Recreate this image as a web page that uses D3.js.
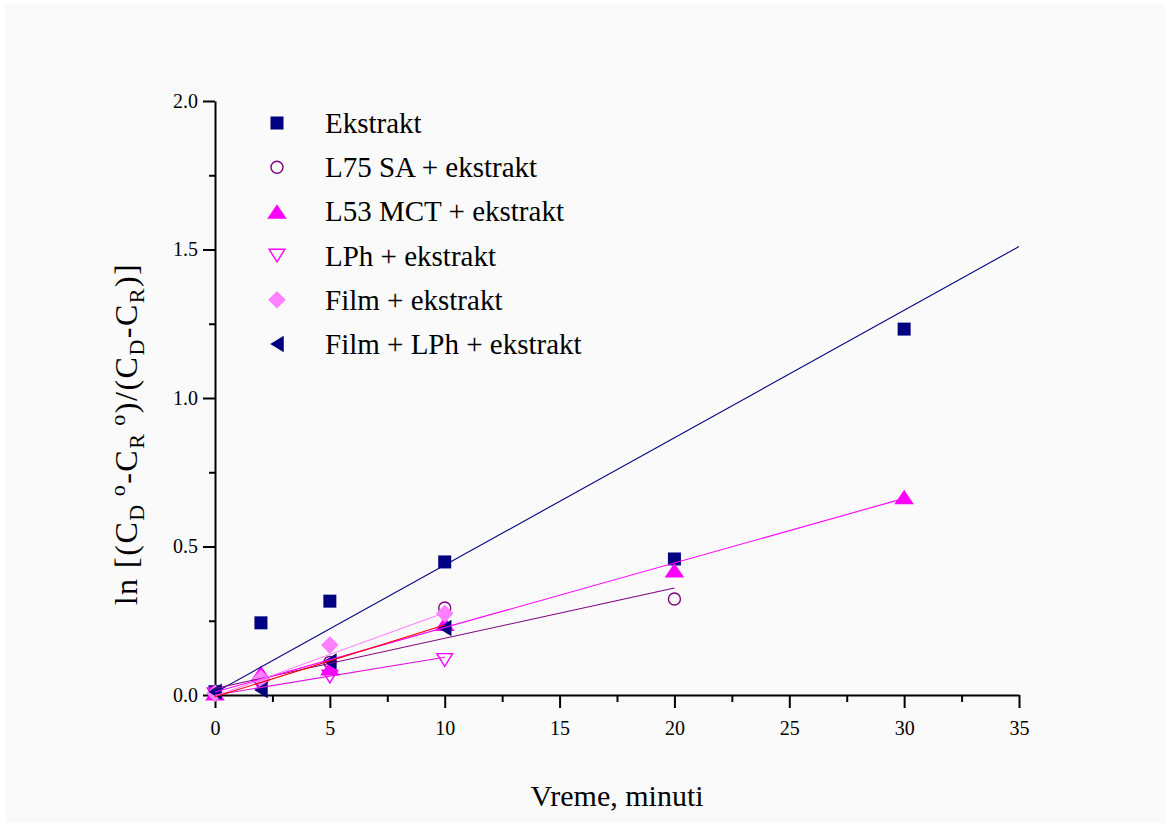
<!DOCTYPE html>
<html>
<head>
<meta charset="utf-8">
<script src="https://cdn.jsdelivr.net/npm/d3@7"></script>
<style>
  body { margin: 0; background: #ffffff; }
  svg text { font-family: "Liberation Serif", "Times New Roman", serif; fill: #000; }
</style>
</head>
<body>
<div id="chart"></div>
<script>
// kinetics plot: ln ratio vs time, one linear fit per sample

// data
let seriesNames = ["Ekstrakt", "L75 SA + ekstrakt", "L53 MCT + ekstrakt", "LPh + ekstrakt", "Film + ekstrakt", "Film + LPh + ekstrakt"];

let ekstraktT = [0, 2, 5, 10, 20, 30];
let ekstraktV = [0.011, 0.243, 0.316, 0.448, 0.458, 1.232];

let l75T = [0, 2, 5, 10, 20];
let l75V = [0.01, 0.05, 0.11, 0.293, 0.323];

let l53T = [0, 2, 5, 10, 20, 30];
let l53V = [0.006, 0.074, 0.09, 0.24, 0.42, 0.667];

let lphT = [0, 2, 5, 10];
let lphV = [0.002, 0.03, 0.062, 0.118];

let filmT = [0, 2, 5, 10];
let filmV = [0.006, 0.055, 0.168, 0.274];

let filmLphT = [0, 2, 5, 10];
let filmLphV = [0.011, 0.017, 0.113, 0.226];

// fitted lines, [start, end] as [time, value]
let fitEkstrakt = [[0, 0.008], [35, 1.51]];
let fitL75 = [[0, 0.022], [20, 0.36]];
let fitL53 = [[0, 0.01], [30, 0.662]];
let fitLph = [[0, 0.0], [10, 0.127]];
let fitFilm = [[0, -0.004], [10, 0.277]];
let fitFilmLph = [[0, -0.006], [10, 0.236]];

let xTicks = [0, 5, 10, 15, 20, 25, 30, 35];
let xMinor = [2.5, 7.5, 12.5, 17.5, 22.5, 27.5, 32.5];
let yTicks = [0, 0.5, 1.0, 1.5, 2.0];
let yMinor = [0.25, 0.75, 1.25, 1.75];

let serif = '"Liberation Serif", "Times New Roman", serif';

// svg
let W = 1170, H = 827;
let svg = d3.select('#chart').append('svg')
    .attr('width', W)
    .attr('height', H);

svg.append('rect')
    .attr('x', 5).attr('y', 4)
    .attr('width', W - 10).attr('height', H - 8)
    .attr('fill', '#fafafa');

let x = d3.scaleLinear().domain([0, 35]).range([215, 1019]);
let y = d3.scaleLinear().domain([0, 2]).range([695, 101]);

// marker shapes, centred on 0,0
function shapePath(kind, s) {
    let h = s / 2;
    if (kind == 'square') return 'M' + (-h) + ',' + (-h) + 'h' + s + 'v' + s + 'h' + (-s) + 'Z';
    if (kind == 'up') return 'M0,' + (-h * 0.85) + 'L' + (h * 1.15) + ',' + (h * 0.85) + 'L' + (-h * 1.15) + ',' + (h * 0.85) + 'Z';
    if (kind == 'down') return 'M0,' + (h * 0.85) + 'L' + (h * 1.05) + ',' + (-h * 0.85) + 'L' + (-h * 1.05) + ',' + (-h * 0.85) + 'Z';
    if (kind == 'diamond') return 'M0,' + (-h * 1.1) + 'L' + (h * 1.1) + ',0L0,' + (h * 1.1) + 'L' + (-h * 1.1) + ',0Z';
    if (kind == 'left') return 'M' + (-h * 0.9) + ',0L' + (h * 0.9) + ',' + (-h * 1.1) + 'L' + (h * 0.9) + ',' + (h * 1.1) + 'Z';
    return null;
}

let series = [
    { name: seriesNames[0], t: ekstraktT, v: ekstraktV, fit: fitEkstrakt, kind: 'square', fill: '#000080', stroke: 'none', line: '#000080', size: 13 },
    { name: seriesNames[1], t: l75T, v: l75V, fit: fitL75, kind: 'circle', fill: 'none', stroke: '#800080', line: '#800080', size: 13 },
    { name: seriesNames[2], t: l53T, v: l53V, fit: fitL53, kind: 'up', fill: '#ff00ff', stroke: 'none', line: '#ff00ff', size: 17 },
    { name: seriesNames[3], t: lphT, v: lphV, fit: fitLph, kind: 'down', fill: 'none', stroke: '#ff00ff', line: '#e010e0', size: 15 },
    { name: seriesNames[4], t: filmT, v: filmV, fit: fitFilm, kind: 'diamond', fill: '#ff80ff', stroke: 'none', line: '#ff80ff', size: 16 },
    { name: seriesNames[5], t: filmLphT, v: filmLphV, fit: fitFilmLph, kind: 'left', fill: '#000080', stroke: 'none', line: '#ff0000', size: 15 }
];

function drawMarker(sel, s) {
    if (s.kind == 'circle') {
        sel.append('circle')
            .attr('r', s.size / 2 - 0.5)
            .attr('fill', s.fill)
            .attr('stroke', s.stroke)
            .attr('stroke-width', 1.4);
    } else {
        sel.append('path')
            .attr('d', shapePath(s.kind, s.size))
            .attr('fill', s.fill)
            .attr('stroke', s.stroke)
            .attr('stroke-width', 1.4);
    }
}

// x axis
let xAxis = d3.axisBottom(x)
    .tickValues(xTicks)
    .tickSize(13)
    .tickSizeOuter(0)
    .tickPadding(13)
    .tickFormat(d3.format('d'));
svg.append('g')
    .attr('transform', 'translate(0,' + y(0) + ')')
    .call(xAxis);
svg.append('g')
    .attr('transform', 'translate(0,' + y(0) + ')')
    .call(d3.axisBottom(x).tickValues(xMinor).tickSize(7).tickSizeOuter(0).tickFormat(''))
    .select('.domain').remove();

// y axis
let yAxis = d3.axisLeft(y)
    .tickValues(yTicks)
    .tickSize(12)
    .tickSizeOuter(0)
    .tickPadding(5)
    .tickFormat(d3.format('.1f'));
svg.append('g')
    .attr('transform', 'translate(' + x(0) + ',0)')
    .call(yAxis);
svg.append('g')
    .attr('transform', 'translate(' + x(0) + ',0)')
    .call(d3.axisLeft(y).tickValues(yMinor).tickSize(6).tickSizeOuter(0).tickFormat(''))
    .select('.domain').remove();

svg.selectAll('.domain, .tick line')
    .attr('stroke', '#000')
    .attr('stroke-width', 2);
svg.selectAll('.tick text')
    .style('font-family', serif)
    .style('font-size', '20px')
    .attr('fill', '#000');

// markers first, fit lines over them
series.forEach(function (s) {
    let pts = s.t.map(function (t, i) { return [t, s.v[i]]; });
    svg.append('g').selectAll('g')
        .data(pts)
        .enter().append('g')
        .attr('transform', function (d) { return 'translate(' + x(d[0]) + ',' + y(d[1]) + ')'; })
        .each(function () { drawMarker(d3.select(this), s); });
});

let line = d3.line()
    .x(function (d) { return x(d[0]); })
    .y(function (d) { return y(d[1]); });

series.forEach(function (s) {
    svg.append('path')
        .attr('d', line(s.fit))
        .attr('fill', 'none')
        .attr('stroke', s.line)
        .attr('stroke-width', 1.1);
});

// legend
let legend = svg.append('g').attr('transform', 'translate(277,123)');
series.forEach(function (s, i) {
    let row = legend.append('g').attr('transform', 'translate(0,' + (i * 44.2) + ')');
    drawMarker(row, s);
    row.append('text')
        .attr('x', 48)
        .attr('y', 10)
        .style('font-family', serif)
        .style('font-size', '29px')
        .text(s.name);
});

// x label
svg.append('text')
    .attr('x', 617)
    .attr('y', 806)
    .attr('text-anchor', 'middle')
    .style('font-family', serif)
    .style('font-size', '30px')
    .text('Vreme, minuti');

// y label with sub/superscripts
let yLabel = svg.append('text')
    .attr('transform', 'translate(137,434) rotate(-90)')
    .attr('text-anchor', 'middle')
    .style('font-family', serif)
    .style('font-size', '32px')
    .style('letter-spacing', '1.5px');
let parts = [
    ['ln [(C', 0], ['D', 1], ['o', 2], ['-C', 0], ['R', 1], ['o', 2],
    [')/(C', 0], ['D', 1], ['-C', 0], ['R', 1], [')]', 0]
];
let offs = { 0: 0, 1: 7, 2: -12 };
let level = 0;
parts.forEach(function (p) {
    let ts = yLabel.append('tspan')
        .attr('dy', offs[p[1]] - offs[level])
        .style('font-size', p[1] ? '22px' : '32px')
        .text(p[0]);
    if (p[1] == 2) ts.attr('dx', 7);
    level = p[1];
});
</script>
</body>
</html>
